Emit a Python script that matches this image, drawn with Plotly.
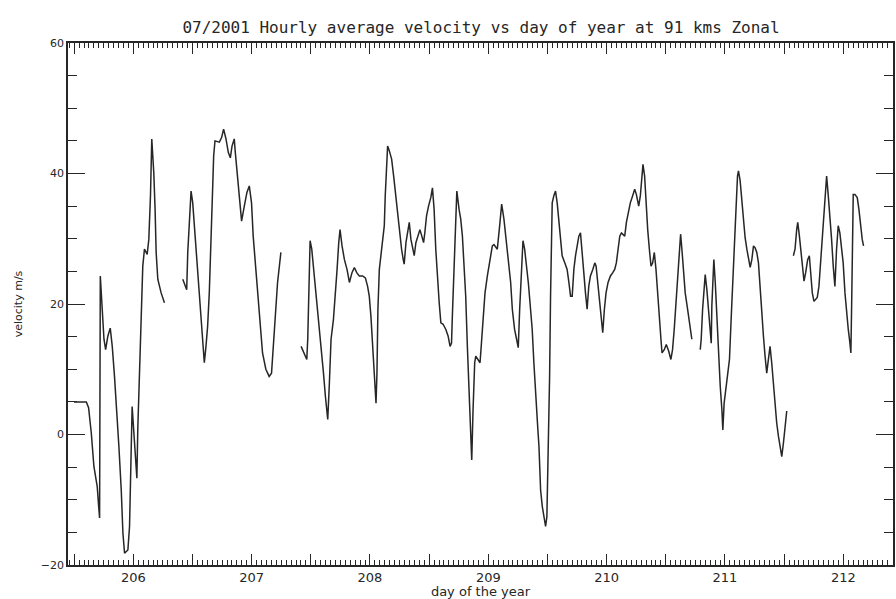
import plotly.graph_objects as go

# Hourly-average zonal wind at 91 km, July 2001 (day of year vs m/s).
# None entries mark data gaps where the trace is broken.
days = [
    205.499, 205.603, 205.622, 205.645, 205.667, 205.695, 205.707, 205.715, 205.721, 205.729,
    205.737, 205.752, 205.766, 205.785, 205.805, 205.822, 205.841, 205.861, 205.878, 205.898,
    205.912, 205.926, 205.954, 205.968, 205.976, 205.982, 205.990, 206.002, 206.019, 206.030,
    206.038, 206.047, 206.058, 206.066, 206.080, 206.094, 206.117, 206.131, 206.145, 206.156,
    206.173, 206.184, 206.193, 206.207, 206.235, 206.263,
    None,
    206.418, 206.451, 206.460, 206.474, 206.488, 206.502, 206.516, 206.539, 206.558, 206.572,
    206.586, 206.600, 206.614, 206.628, 206.642, 206.657, 206.671, 206.679, 206.690, 206.727,
    206.746, 206.763, 206.783, 206.803, 206.820, 206.834, 206.853, 206.862, 206.881, 206.901,
    206.915, 206.938, 206.960, 206.980, 206.999, 207.013, 207.036, 207.056, 207.072, 207.092,
    207.120, 207.148, 207.168, 207.182, 207.196, 207.219, 207.247,
    None,
    207.418, 207.466, 207.474, 207.483, 207.494, 207.508, 207.525, 207.545, 207.567, 207.587,
    207.607, 207.623, 207.637, 207.643, 207.657, 207.671, 207.691, 207.708, 207.722, 207.736,
    207.747, 207.764, 207.784, 207.806, 207.826, 207.848, 207.868, 207.888, 207.910, 207.938,
    207.961, 207.980, 207.994, 208.008, 208.022, 208.037, 208.051, 208.059, 208.067, 208.079,
    208.093, 208.107, 208.121, 208.129, 208.140, 208.149, 208.163, 208.183, 208.200, 208.214,
    208.228, 208.242, 208.253, 208.267, 208.281, 208.289, 208.304, 208.318, 208.332, 208.346,
    208.360, 208.374, 208.388, 208.407, 208.422, 208.438, 208.453, 208.464, 208.478, 208.495,
    208.514, 208.528, 208.542, 208.556, 208.571, 208.585, 208.599, 208.618, 208.641, 208.660,
    208.677, 208.689, 208.697, 208.711, 208.725, 208.734, 208.753, 208.767, 208.781, 208.795,
    208.809, 208.823, 208.838, 208.852, 208.860, 208.871, 208.885, 208.894, 208.913, 208.930,
    208.942, 208.956, 208.972, 208.992, 209.012, 209.034, 209.048, 209.076, 209.096, 209.113,
    209.132, 209.152, 209.169, 209.189, 209.203, 209.222, 209.239, 209.253, 209.265, 209.279,
    209.293, 209.307, 209.321, 209.338, 209.357, 209.371, 209.385, 209.399, 209.419, 209.428,
    209.442, 209.456, 209.470, 209.484, 209.495, 209.506, 209.518, 209.526, 209.534, 209.540,
    209.554, 209.568, 209.582, 209.596, 209.610, 209.624, 209.647, 209.666, 209.681, 209.695,
    209.709, 209.723, 209.737, 209.751, 209.765, 209.779, 209.793, 209.807, 209.821, 209.835,
    209.849, 209.863, 209.883, 209.900, 209.911, 209.925, 209.942, 209.956, 209.967, 209.981,
    209.995, 210.012, 210.032, 210.052, 210.068, 210.082, 210.097, 210.111, 210.125, 210.139,
    210.153, 210.167, 210.181, 210.200, 210.220, 210.237, 210.251, 210.271, 210.285, 210.299,
    210.307, 210.321, 210.333, 210.347, 210.361, 210.375, 210.389, 210.403, 210.417, 210.431,
    210.445, 210.459, 210.468, 210.487, 210.504, 210.524, 210.543, 210.557, 210.571, 210.586,
    210.602, 210.616, 210.625, 210.636, 210.650, 210.664, 210.684, 210.701, 210.720,
    None,
    210.791, 210.799, 210.811, 210.822, 210.833, 210.847, 210.861, 210.875, 210.884, 210.889,
    210.898, 210.906, 210.918, 210.932, 210.946, 210.960, 210.974, 210.982, 210.993, 211.007,
    211.024, 211.038, 211.052, 211.066, 211.078, 211.092, 211.106, 211.114, 211.128, 211.142,
    211.156, 211.170, 211.185, 211.199, 211.213, 211.227, 211.241, 211.255, 211.269, 211.283,
    211.297, 211.311, 211.325, 211.339, 211.353, 211.367, 211.381, 211.395, 211.409, 211.423,
    211.437, 211.452, 211.466, 211.480, 211.494, 211.508, 211.522,
    None,
    211.578, 211.592, 211.606, 211.615, 211.629, 211.643, 211.657, 211.668, 211.682, 211.699,
    211.713, 211.724, 211.738, 211.752, 211.766, 211.780, 211.794, 211.808, 211.823, 211.837,
    211.848, 211.859, 211.873, 211.887, 211.901, 211.915, 211.929, 211.943, 211.957, 211.971,
    211.985, 211.999, 212.014, 212.028, 212.042, 212.056, 212.064, 212.070, 212.075, 212.078,
    212.084, 212.098, 212.118, 212.132, 212.146, 212.160, 212.171,
]

velocity = [
    5.0, 5.0, 4.1, 0.2, -4.9, -8.0, -11.0, -12.8, 24.3, 22.2,
    18.6, 14.6, 13.0, 15.1, 16.3, 13.5, 8.9, 3.8, -1.8, -8.5,
    -15.1, -18.2, -17.7, -14.1, -6.4, 1.0, 4.3, 1.0, -4.4, -6.7,
    1.0, 5.9, 11.0, 16.6, 25.8, 28.4, 27.6, 29.9, 36.6, 45.3,
    40.1, 34.5, 27.9, 23.8, 21.7, 20.2,
    None,
    23.8, 22.2, 27.9, 32.0, 37.3, 35.5, 32.0, 26.8, 21.2, 18.1,
    14.0, 11.0, 13.5, 16.6, 21.7, 28.9, 38.1, 42.7, 45.0, 44.8,
    45.5, 46.8, 45.3, 43.2, 42.4, 44.2, 45.3, 43.2, 39.1, 34.5,
    32.7, 35.0, 37.1, 38.1, 35.5, 30.4, 24.8, 20.2, 16.1, 12.5,
    10.0, 8.9, 9.4, 13.0, 16.6, 23.3, 27.9,
    None,
    13.5, 11.5, 14.6, 20.7, 29.7, 28.4, 25.3, 21.2, 16.6, 13.0,
    9.4, 5.9, 3.8, 2.3, 7.9, 14.6, 17.6, 21.2, 25.3, 29.4,
    31.4, 28.9, 26.8, 25.3, 23.3, 24.8, 25.6, 24.8, 24.3, 24.3,
    24.0, 22.7, 21.2, 18.1, 14.0, 9.9, 4.8, 9.4, 19.2, 25.3,
    27.9, 29.4, 32.0, 36.6, 41.2, 44.2, 43.5, 42.2, 39.6, 37.1,
    34.5, 32.0, 29.9, 28.4, 26.8, 26.1, 29.4, 31.0, 32.5, 29.9,
    28.4, 27.4, 29.4, 30.4, 31.4, 30.4, 29.4, 31.0, 33.5, 35.0,
    36.3, 37.8, 34.5, 28.4, 23.3, 20.2, 17.1, 16.9, 16.1, 15.1,
    13.5, 14.0, 18.6, 25.3, 34.5, 37.3, 34.5, 33.0, 30.4, 26.3,
    21.2, 13.5, 6.4, 1.8, -3.9, 3.8, 11.0, 12.0, 11.5, 11.0,
    14.0, 18.1, 21.7, 24.3, 26.3, 28.9, 29.1, 28.4, 32.0, 35.3,
    33.0, 29.4, 26.8, 23.3, 19.2, 16.1, 14.6, 13.3, 19.2, 23.8,
    29.7, 28.4, 26.3, 23.3, 19.2, 16.1, 11.0, 5.9, 0.7, -1.8,
    -8.5, -11.0, -12.6, -14.1, -12.6, -2.8, 8.9, 21.2, 30.9, 35.5,
    36.6, 37.3, 35.5, 33.0, 29.4, 27.4, 26.3, 25.3, 23.3, 21.2,
    21.2, 25.3, 27.4, 28.9, 30.4, 30.9, 28.4, 24.8, 21.7, 19.2,
    22.7, 24.3, 25.3, 26.3, 25.8, 23.3, 20.2, 17.1, 15.6, 19.2,
    21.7, 23.3, 24.3, 24.8, 25.3, 26.3, 28.4, 30.4, 30.9, 30.7,
    30.4, 32.5, 34.0, 35.5, 36.6, 37.6, 36.8, 35.0, 36.6, 39.1,
    41.4, 39.6, 35.5, 31.4, 28.4, 25.8, 26.3, 27.9, 25.3, 21.2,
    17.1, 14.6, 12.5, 13.0, 13.8, 12.8, 11.5, 13.0, 16.1, 20.2,
    25.3, 28.9, 30.7, 28.4, 24.3, 21.7, 19.2, 16.6, 14.6,
    None,
    13.0, 14.6, 19.2, 22.7, 24.5, 22.2, 19.2, 16.1, 14.0, 19.7,
    24.8, 26.8, 23.3, 17.1, 11.0, 7.4, 3.8, 0.7, 4.8, 6.9,
    8.9, 11.5, 17.6, 22.7, 28.4, 34.0, 39.6, 40.4, 38.9, 35.5,
    32.5, 30.2, 28.4, 26.8, 25.6, 26.8, 28.9, 28.6, 27.9, 26.3,
    22.2, 19.2, 15.1, 12.0, 9.4, 11.5, 13.5, 11.0, 7.4, 4.8,
    1.8, -0.3, -1.8, -3.4, -1.3, 1.8, 3.6,
    None,
    27.4, 28.4, 31.4, 32.5, 30.4, 27.9, 25.3, 23.5, 24.8, 26.8,
    27.4, 24.8, 21.7, 20.4, 20.7, 21.0, 22.7, 26.3, 29.4, 32.5,
    36.6, 39.6, 36.6, 33.5, 29.9, 25.8, 22.7, 28.4, 32.0, 30.9,
    28.9, 26.3, 21.7, 18.6, 16.1, 14.0, 12.5, 19.2, 26.8, 32.5,
    36.8, 36.8, 36.3, 34.5, 32.0, 29.9, 28.9,
]

# Axis layout: days labelled at integers, long ticks every half day, hourly minor ticks
day_ticks = [205.5 + 0.5 * i for i in range(14)]
day_labels = [str(int(d)) if d == int(d) else "" for d in day_ticks]
vel_ticks = [-20, 0, 20, 40, 60]

ink = "#262626"
font = "DejaVu Sans"
title_font = "DejaVu Sans Mono"

fig = go.Figure()
fig.add_trace(go.Scatter(
    x=days, y=velocity, mode="lines", connectgaps=False,
    line=dict(color=ink, width=1.5), showlegend=False, hoverinfo="x+y",
))

fig.update_layout(
    width=896, height=599,
    paper_bgcolor="white", plot_bgcolor="white",
    margin=dict(l=68, r=1, t=43, b=34),
    title=dict(
        text="07/2001 Hourly average velocity vs day of year at 91 kms Zonal",
        x=481 / 896, xanchor="center", xref="container",
        y=1 - 27 / 599, yanchor="middle", yref="container",
        font=dict(family=title_font, size=16, color=ink),
    ),
    font=dict(family=font, color=ink),
)

fig.update_xaxes(
    range=[205.448, 212.42], showgrid=False, zeroline=False,
    showline=True, linecolor=ink, linewidth=1.6, mirror="allticks",
    tickmode="array", tickvals=day_ticks, ticktext=day_labels,
    ticks="inside", ticklen=11, tickwidth=1.3, tickcolor=ink,
    tickfont=dict(family=font, size=13, color=ink),
    minor=dict(tickmode="linear", tick0=206, dtick=1 / 24,
               ticks="inside", ticklen=5, tickwidth=1.1, tickcolor=ink, showgrid=False),
    title=dict(text="day of the year", standoff=3,
               font=dict(family=font, size=13, color=ink)),
)

fig.update_yaxes(
    range=[-20, 60], showgrid=False, zeroline=False,
    showline=True, linecolor=ink, linewidth=1.6, mirror="allticks",
    tickmode="array", tickvals=vel_ticks,
    ticks="inside", ticklen=17, tickwidth=1.3, tickcolor=ink,
    tickfont=dict(family=font, size=11, color=ink),
    minor=dict(tickmode="linear", tick0=0, dtick=5,
               ticks="inside", ticklen=9, tickwidth=1.1, tickcolor=ink, showgrid=False),
    title=dict(text="velocity m/s", standoff=16,
               font=dict(family=font, size=11, color=ink)),
)

fig.write_html("out.html")
